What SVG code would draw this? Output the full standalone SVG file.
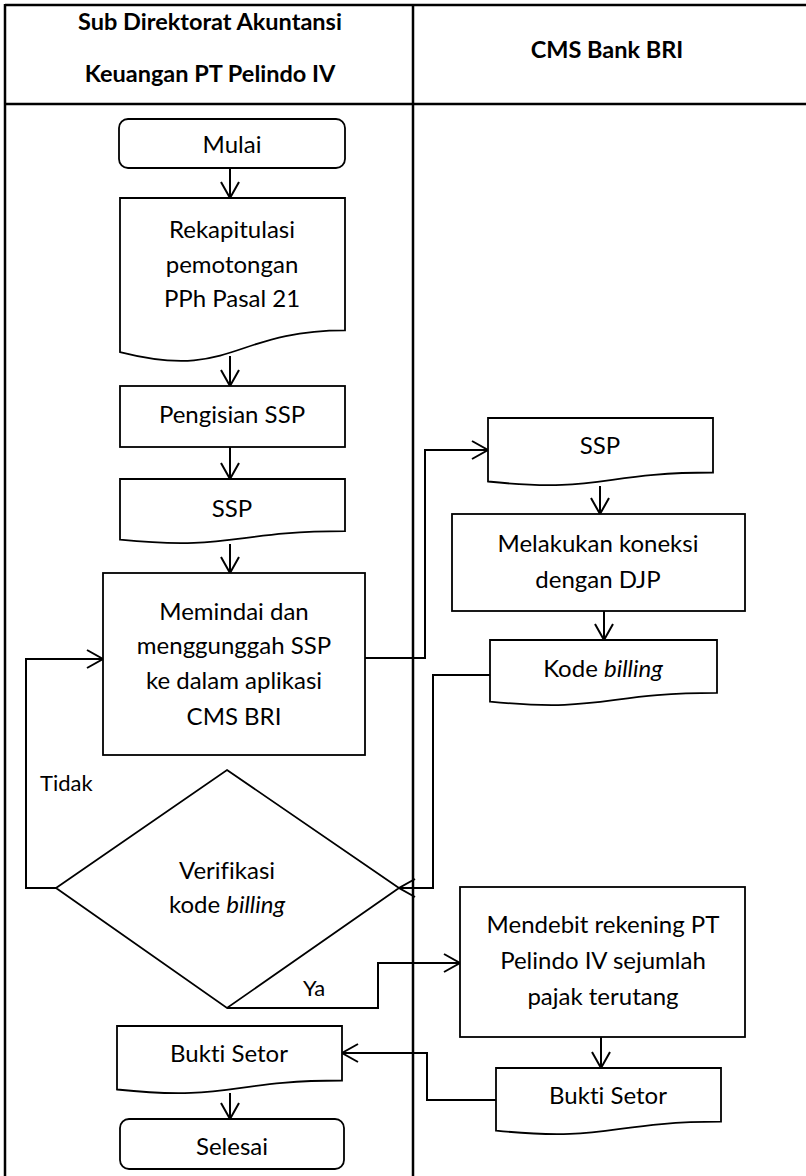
<svg xmlns="http://www.w3.org/2000/svg" width="806" height="1176" viewBox="0 0 806 1176">
<style>
  .frame { stroke: #000; stroke-width: 2.5; fill: none; }
  .shape { stroke: #000; stroke-width: 1.8; fill: #fff; }
  .conn { stroke: #000; stroke-width: 2; fill: none; marker-end: url(#arr); }
  text { font-family: Lato, "Liberation Sans", sans-serif; font-size: 24px; fill: #000; text-anchor: middle; font-variant-ligatures: none; }
  .hdr { font-weight: bold; font-size: 23.5px; }
  .it { font-style: italic; }
  .lbl { text-anchor: start; font-size: 22px; }
</style>
<defs>
  <marker id="arr" markerUnits="userSpaceOnUse" viewBox="-18 -11 20 22" refX="0" refY="0" markerWidth="20" markerHeight="22" orient="auto">
    <path d="M-16,-9 L0,0 L-16,9" fill="none" stroke="#000" stroke-width="2"/>
  </marker>
</defs>
<rect width="806" height="1176" fill="#fff"/>
<g id="frame">
  <line class="frame" x1="5" y1="5" x2="806" y2="5"/>
  <line class="frame" x1="5" y1="104" x2="806" y2="104"/>
  <line class="frame" x1="5" y1="4" x2="5" y2="1176"/>
  <line class="frame" x1="413" y1="4" x2="413" y2="1176"/>
</g>
<g id="headers">
  <text class="hdr" x="210" y="30">Sub Direktorat Akuntansi</text>
  <text class="hdr" x="210" y="82">Keuangan PT Pelindo IV</text>
  <text class="hdr" x="607" y="58">CMS Bank BRI</text>
</g>
<g id="connectors">
  <path class="conn" d="M230,168 V198"/>
  <path class="conn" d="M230,356 V386"/>
  <path class="conn" d="M230,447 V479"/>
  <path class="conn" d="M230,544 V573"/>
  <path class="conn" d="M365,658 H425 V450 H488"/>
  <path class="conn" d="M600,486 V514"/>
  <path class="conn" d="M604,611 V640"/>
  <path class="conn" d="M490,675 H433 V888 H399"/>
  <path class="conn" d="M56,888 H26 V659 H103"/>
  <path class="conn" d="M227,1008 H378 V963 H460"/>
  <path class="conn" d="M601,1037 V1068"/>
  <path class="conn" d="M496,1100 H427 V1053 H342"/>
  <path class="conn" d="M230,1093 V1119"/>
</g>
<g id="mulai">
  <rect class="shape" x="119" y="119" width="226" height="49" rx="9"/>
  <text x="232" y="153">Mulai</text>
</g>
<g id="rekap">
  <path class="shape" d="M120,198 H345 V330.3 C232.5,330.3 232.5,380.7 120,352.1 Z"/>
  <text x="232" y="238">Rekapitulasi</text>
  <text x="232" y="273">pemotongan</text>
  <text x="232" y="307">PPh Pasal 21</text>
</g>
<g id="pengisian">
  <rect class="shape" x="120" y="386" width="225" height="61"/>
  <text x="232" y="423">Pengisian SSP</text>
</g>
<g id="ssp-left">
  <path class="shape" d="M120,479 H345 V531.1 C232.5,531.1 232.5,550.9 120,539.7 Z"/>
  <text x="232" y="517">SSP</text>
</g>
<g id="memindai">
  <rect class="shape" x="103" y="573" width="262" height="182"/>
  <text x="234" y="620">Memindai dan</text>
  <text x="234" y="654">menggunggah SSP</text>
  <text x="234" y="689">ke dalam aplikasi</text>
  <text x="234" y="725">CMS BRI</text>
</g>
<g id="verifikasi">
  <polygon class="shape" points="227,770 399,888 227,1008 56,888"/>
  <text x="227" y="879">Verifikasi</text>
  <text x="227" y="913">kode <tspan class="it">billing</tspan></text>
</g>
<g id="label-tidak">
  <text class="lbl" x="40" y="791">Tidak</text>
</g>
<g id="label-ya">
  <text class="lbl" x="303" y="996">Ya</text>
</g>
<g id="ssp-right">
  <path class="shape" d="M488,418 H713 V472.5 C600.5,472.5 600.5,493.3 488,481.5 Z"/>
  <text x="600" y="454">SSP</text>
</g>
<g id="melakukan">
  <rect class="shape" x="452" y="514" width="293" height="97"/>
  <text x="598" y="552">Melakukan koneksi</text>
  <text x="598" y="588">dengan DJP</text>
</g>
<g id="kode-billing">
  <path class="shape" d="M490,640 H717 V692.9 C603.5,692.9 603.5,713 490,701.6 Z"/>
  <text x="603" y="677">Kode <tspan class="it">billing</tspan></text>
</g>
<g id="mendebit">
  <rect class="shape" x="460" y="887" width="285" height="150"/>
  <text x="603" y="933">Mendebit rekening PT</text>
  <text x="603" y="969">Pelindo IV sejumlah</text>
  <text x="603" y="1005">pajak terutang</text>
</g>
<g id="bukti-right">
  <path class="shape" d="M496,1068 H721 V1121.7 C608.5,1121.7 608.5,1142.2 496,1130.6 Z"/>
  <text x="608" y="1104">Bukti Setor</text>
</g>
<g id="bukti-left">
  <path class="shape" d="M117,1026 H342 V1080.5 C229.5,1080.5 229.5,1101.3 117,1089.5 Z"/>
  <text x="229" y="1062">Bukti Setor</text>
</g>
<g id="selesai">
  <rect class="shape" x="120" y="1119" width="224" height="50" rx="9"/>
  <text x="232" y="1155">Selesai</text>
</g>
</svg>
